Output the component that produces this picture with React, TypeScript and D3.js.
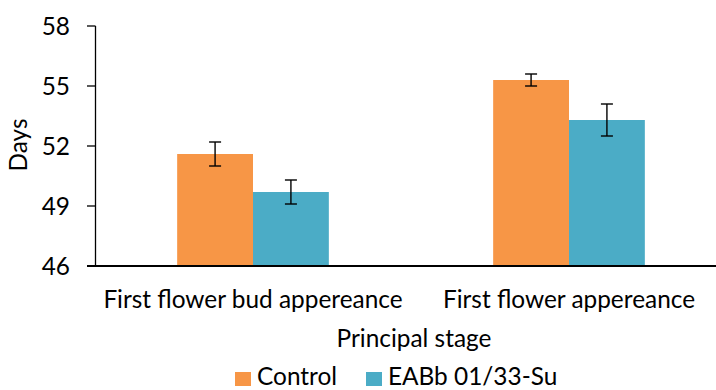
import React from "react";
import * as d3 from "d3";

const categories = ["First flower bud appereance", "First flower appereance"];
const seriesNames = ["Control", "EABb 01/33-Su"];
const controlValues = [51.6, 55.3];
const controlErrors = [0.6, 0.3];
const eabbValues = [49.7, 53.3];
const eabbErrors = [0.6, 0.8];
const yTicks = [46, 49, 52, 55, 58];
const colors = ["#F79646", "#4BACC6"];

const W = 716;
const H = 390;
const FONT = "Lato, 'Open Sans', sans-serif";
const FS = 24.4;

export default function App() {
  const x = d3.scaleBand<string>().domain(categories).range([95, 727]).paddingInner(0).paddingOuter(0);
  const y = d3.scaleLinear().domain([46, 58]).range([266, 26]);
  const groupW = x.bandwidth() * 0.48;
  const barW = groupW / 2;
  const series = [
    { name: seriesNames[0], values: controlValues, errors: controlErrors, color: colors[0] },
    { name: seriesNames[1], values: eabbValues, errors: eabbErrors, color: colors[1] },
  ];
  return (
    <svg width={W} height={H} style={{ position: "absolute", left: 0, top: 0, background: "#fff" }}>
      {series.map((s, si) =>
        categories.map((c, ci) => {
          const cx = (x(c) as number) + x.bandwidth() / 2;
          const bx = cx - groupW / 2 + si * barW;
          return (
            <rect key={`${si}-${ci}`} x={bx} y={y(s.values[ci])} width={barW} height={y(46) - y(s.values[ci])} fill={s.color} />
          );
        })
      )}
      {series.map((s, si) =>
        categories.map((c, ci) => {
          const cx = (x(c) as number) + x.bandwidth() / 2;
          const mx = cx - groupW / 2 + si * barW + barW / 2;
          const yt = y(s.values[ci] + s.errors[ci]);
          const yb = y(s.values[ci] - s.errors[ci]);
          return (
            <g key={`e${si}-${ci}`} stroke="#000" strokeWidth={1.4}>
              <line x1={mx} x2={mx} y1={yt} y2={yb} />
              <line x1={mx - 6} x2={mx + 6} y1={yt} y2={yt} />
              <line x1={mx - 6} x2={mx + 6} y1={yb} y2={yb} />
            </g>
          );
        })
      )}
      {/* y axis */}
      <line x1={95.5} x2={95.5} y1={y(58)} y2={y(46)} stroke="#000" strokeWidth={1.3} />
      {yTicks.map((t) => (
        <g key={t}>
          <line x1={87} x2={95.5} y1={y(t)} y2={y(t)} stroke="#000" strokeWidth={1.3} />
          <text x={70} y={y(t)} dy="0.35em" textAnchor="end" fontFamily={FONT} fontSize={FS} fill="#000">
            {t}
          </text>
        </g>
      ))}
      {/* x axis */}
      <line x1={87} x2={W} y1={y(46)} y2={y(46)} stroke="#000" strokeWidth={2} />
      {categories.map((c) => (
        <text key={c} x={(x(c) as number) + x.bandwidth() / 2} y={308} textAnchor="middle" fontFamily={FONT} fontSize={FS} fill="#000">
          {c}
        </text>
      ))}
      <text x={414} y={347} textAnchor="middle" fontFamily={FONT} fontSize={FS} fill="#000">
        Principal stage
      </text>
      <text transform={`translate(27,145) rotate(-90)`} textAnchor="middle" fontFamily={FONT} fontSize={FS} fill="#000">
        Days
      </text>
      {series.map((s, i) => {
        const lx = i === 0 ? 235 : 366;
        return (
          <g key={s.name}>
            <rect x={lx} y={372} width={16} height={14} fill={s.color} />
            <text x={lx + 22} y={385} fontFamily={FONT} fontSize={FS} fill="#000">
              {s.name}
            </text>
          </g>
        );
      })}
    </svg>
  );
}
